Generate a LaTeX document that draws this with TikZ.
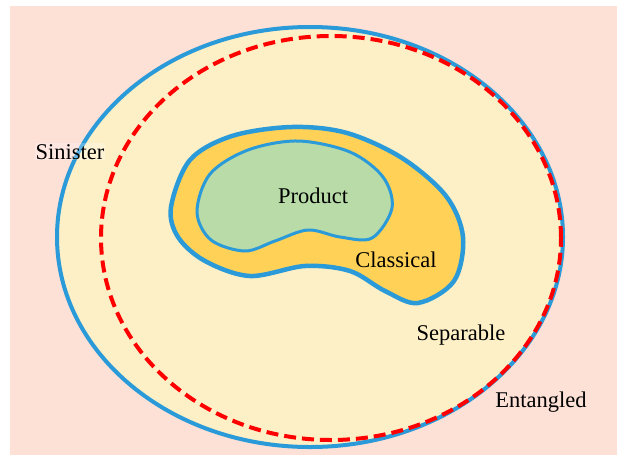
\documentclass[tikz,border=0pt]{standalone}
\usepackage{fontspec}
\setmainfont{Liberation Serif}
\usepackage{xcolor}
\usepackage{tikz}
\definecolor{pinkbg}{HTML}{FDE0D6}
\definecolor{sepfill}{HTML}{FEF0C6}
\definecolor{classfill}{HTML}{FFD257}
\definecolor{prodfill}{HTML}{B8DBA8}
\definecolor{setblue}{HTML}{2B9AD9}
\definecolor{entred}{HTML}{FF0000}

\begin{document}
\begin{tikzpicture}[x=1pt, y=-1pt,
    lbl/.style={font=\fontsize{22.5}{26}\selectfont, anchor=base, inner sep=1pt},
    border/.style={draw=setblue, line width=#1},
    border/.default=4pt
]

\useasboundingbox (0,0) rectangle (617,455);
\fill[pinkbg] (10,6) rectangle (617,455);

% outer sets
\draw[border, fill=sepfill] (310,237) ellipse [x radius=253pt, y radius=210pt];
\draw[entred, line width=4pt, dash pattern=on 12pt off 6pt] (331,238) ellipse [x radius=230pt, y radius=202pt];

% classical and product sets
\draw[border=4.5pt, fill=classfill] plot[smooth cycle, tension=0.55] coordinates {
    (171,207) (190,160) (232,136) (292,127) (347,133) (402,158) (446,196)
    (463,237) (454,281) (418,303) (385,291) (350,271) (305,266) (250,276)
    (205,261) (178,237)};
\draw[border=3pt, fill=prodfill] plot[smooth cycle, tension=0.55] coordinates {
    (197,212) (210,174) (248,150) (298,141) (350,152) (383,177) (392,208)
    (372,238) (340,237) (308,230) (275,241) (245,251) (211,240)};

% labels
\node[lbl] (product) at (313,203) {Product};
\node[lbl] (classical) at (396,267) {Classical};
\node[lbl] (separable) at (461,340) {Separable};
\node[lbl] (entangled) at (541,407) {Entangled};
\node[lbl, fill=white, fill opacity=0.25, text opacity=1] (sinister) at (70,159) {Sinister};

\end{tikzpicture}
\end{document}
